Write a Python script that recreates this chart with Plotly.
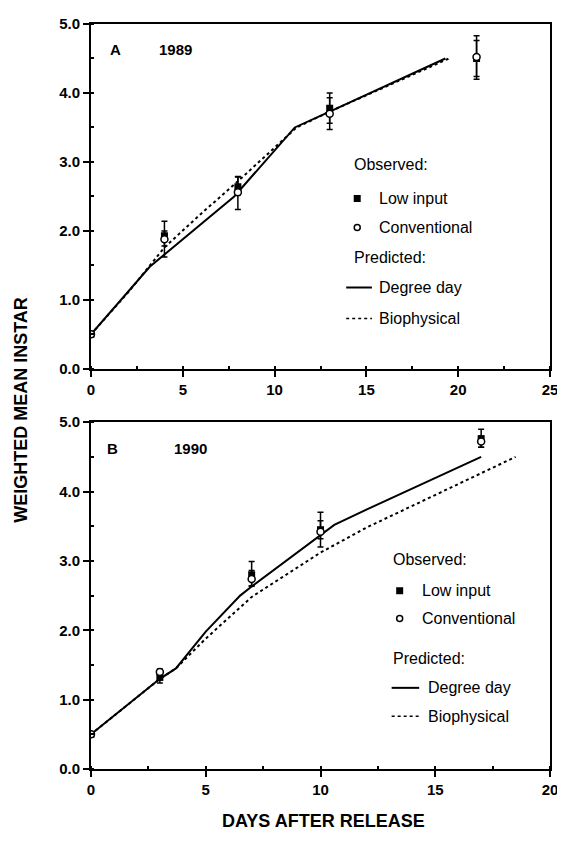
import plotly.graph_objects as go
from plotly.subplots import make_subplots

# ---------------- Panel A : 1989 ----------------
a_days = [0, 4, 8, 13, 21]
a_low = [0.50, 1.93, 2.64, 3.78, 4.50]
a_low_up = [0, 0.21, 0.15, 0.22, 0.26]
a_low_dn = [0, 0.15, 0.12, 0.22, 0.26]
a_conv = [0.50, 1.88, 2.56, 3.70, 4.52]
a_conv_up = [0, 0.12, 0.22, 0.23, 0.31]
a_conv_dn = [0, 0.26, 0.25, 0.23, 0.32]
a_dd_x = [0, 3.2, 7.8, 11.1, 13, 19.3]
a_dd_y = [0.50, 1.48, 2.50, 3.50, 3.73, 4.50]
a_bio_x = [0, 2, 4, 6, 8, 9.5, 11.2, 13, 19.5]
a_bio_y = [0.50, 1.10, 1.76, 2.25, 2.72, 3.08, 3.50, 3.73, 4.50]

# ---------------- Panel B : 1990 ----------------
b_days = [0, 3, 7, 10, 17]
b_low = [0.50, 1.32, 2.80, 3.45, 4.76]
b_low_up = [0, 0.08, 0.19, 0.25, 0.14]
b_low_dn = [0, 0.08, 0.16, 0.25, 0.12]
b_conv = [0.50, 1.40, 2.74, 3.42, 4.72]
b_conv_up = [0, 0.04, 0.12, 0.16, 0.08]
b_conv_dn = [0, 0.05, 0.10, 0.10, 0.08]
b_dd_x = [0, 3, 3.7, 5, 6.5, 7, 10.6, 12, 17]
b_dd_y = [0.50, 1.30, 1.45, 1.98, 2.50, 2.63, 3.52, 3.74, 4.50]
b_bio_x = [0, 3, 3.7, 5, 7, 10, 12, 18.5]
b_bio_y = [0.50, 1.30, 1.45, 1.88, 2.48, 3.12, 3.48, 4.50]

y_ticks = [0, 1, 2, 3, 4, 5]
a_x_ticks = [0, 5, 10, 15, 20, 25]
b_x_ticks = [0, 5, 10, 15, 20]

FONT = "Liberation Sans"
BLACK = "black"

# page body has an 8px margin: the figure is laid out in page pixels minus 8
OFF = 8
W, H = 565 - OFF, 841 - 2 * OFF
A_TOP, A_BOT = 15 - OFF, 364 - OFF
B_TOP, B_BOT = 418 - OFF, 769 - OFF
P_LEFT, P_RIGHT = 91 - OFF, 553 - OFF
plot_h = B_BOT - A_TOP
a_dom = [(B_BOT - A_BOT) / plot_h, 1]
b_dom = [0, (B_BOT - B_TOP) / plot_h]

fig = make_subplots(rows=2, cols=1, vertical_spacing=0.0)


def add_panel(row, days, low, lup, ldn, conv, cup, cdn, ddx, ddy, bx, by):
    fig.add_trace(go.Scatter(x=ddx, y=ddy, mode="lines",
                             line=dict(color=BLACK, width=2), showlegend=False),
                  row=row, col=1)
    fig.add_trace(go.Scatter(x=bx, y=by, mode="lines",
                             line=dict(color=BLACK, width=2, dash="dot"), showlegend=False),
                  row=row, col=1)
    fig.add_trace(go.Scatter(x=days, y=low, mode="markers",
                             marker=dict(symbol="square", size=7, color=BLACK),
                             error_y=dict(type="data", array=lup, arrayminus=ldn,
                                          color=BLACK, thickness=1.5, width=3),
                             showlegend=False), row=row, col=1)
    fig.add_trace(go.Scatter(x=days, y=conv, mode="markers",
                             marker=dict(symbol="circle", size=7, color="white",
                                         line=dict(color=BLACK, width=1.5)),
                             error_y=dict(type="data", array=cup, arrayminus=cdn,
                                          color=BLACK, thickness=1.5, width=3),
                             showlegend=False), row=row, col=1)


add_panel(1, a_days, a_low, a_low_up, a_low_dn, a_conv, a_conv_up, a_conv_dn,
          a_dd_x, a_dd_y, a_bio_x, a_bio_y)
add_panel(2, b_days, b_low, b_low_up, b_low_dn, b_conv, b_conv_up, b_conv_dn,
          b_dd_x, b_dd_y, b_bio_x, b_bio_y)

axis_common = dict(showline=True, linecolor=BLACK, linewidth=2, mirror=True,
                   ticks="outside", ticklen=6, tickwidth=1.5, tickcolor=BLACK,
                   showgrid=False, zeroline=False,
                   tickfont=dict(family=FONT, size=15, color=BLACK, weight="bold"))

fig.update_xaxes(**axis_common)
fig.update_yaxes(**axis_common)
fig.update_xaxes(range=[0, 25], tickvals=a_x_ticks,
                 minor=dict(ticks="inside", ticklen=3, dtick=2.5, tickcolor=BLACK),
                 row=1, col=1)
fig.update_xaxes(range=[0, 20], tickvals=b_x_ticks,
                 minor=dict(ticks="inside", ticklen=3, dtick=2.5, tickcolor=BLACK),
                 row=2, col=1)
fig.update_yaxes(range=[0, 5], tickvals=y_ticks, tickformat=".1f",
                 minor=dict(ticks="inside", ticklen=3, dtick=0.5, tickcolor=BLACK))
fig.update_layout(yaxis=dict(domain=a_dom), yaxis2=dict(domain=b_dom))


def label(text, x, y, xref, yref, size=16, bold=False, xanchor="left"):
    fig.add_annotation(text=text, x=x, y=y, xref=xref, yref=yref, showarrow=False,
                       xanchor=xanchor, yanchor="middle",
                       font=dict(family=FONT, size=size, color=BLACK,
                                 weight="bold" if bold else "normal"))


label("A", 1.35, 4.63, "x", "y", size=15, bold=True, xanchor="center")
label("1989", 4.6, 4.63, "x", "y", size=15, bold=True, xanchor="center")
label("B", 0.93, 4.62, "x2", "y2", size=15, bold=True, xanchor="center")
label("1990", 4.34, 4.62, "x2", "y2", size=15, bold=True, xanchor="center")

legA = dict(head_x=14.2, mk_x=14.5, txt_x=15.6, dd_x=15.6, ln_x0=13.9, ln_x1=15.3,
            ys=[2.97, 2.47, 2.05, 1.62, 1.18, 0.73])
legB = dict(head_x=13.07, mk_x=13.45, txt_x=14.35, dd_x=14.6, ln_x0=13.1, ln_x1=14.3,
            ys=[3.02, 2.57, 2.17, 1.60, 1.17, 0.76])

for L, xr, yr, row in ((legA, "x", "y", 1), (legB, "x2", "y2", 2)):
    ys = L["ys"]
    label("Observed:", L["head_x"], ys[0], xr, yr)
    label("Low input", L["txt_x"], ys[1], xr, yr)
    label("Conventional", L["txt_x"], ys[2], xr, yr)
    label("Predicted:", L["head_x"], ys[3], xr, yr)
    label("Degree day", L["dd_x"], ys[4], xr, yr)
    label("Biophysical", L["dd_x"], ys[5], xr, yr)
    fig.add_trace(go.Scatter(x=[L["mk_x"]], y=[ys[1]], mode="markers",
                             marker=dict(symbol="square", size=7, color=BLACK),
                             showlegend=False, hoverinfo="skip"), row=row, col=1)
    fig.add_trace(go.Scatter(x=[L["mk_x"]], y=[ys[2]], mode="markers",
                             marker=dict(symbol="circle", size=6, color="white",
                                         line=dict(color=BLACK, width=1.5)),
                             showlegend=False, hoverinfo="skip"), row=row, col=1)
    fig.add_trace(go.Scatter(x=[L["ln_x0"], L["ln_x1"]], y=[ys[4], ys[4]], mode="lines",
                             line=dict(color=BLACK, width=2),
                             showlegend=False, hoverinfo="skip"), row=row, col=1)
    fig.add_trace(go.Scatter(x=[L["ln_x0"], L["ln_x1"]], y=[ys[5], ys[5]], mode="lines",
                             line=dict(color=BLACK, width=1.5, dash="dot"),
                             showlegend=False, hoverinfo="skip"), row=row, col=1)

plot_w = P_RIGHT - P_LEFT
fig.add_annotation(text="WEIGHTED MEAN INSTAR", textangle=-90,
                   x=(21 - OFF - P_LEFT) / plot_w, y=(B_BOT - (405 - OFF)) / plot_h,
                   xref="paper", yref="paper", xanchor="center", yanchor="middle",
                   showarrow=False,
                   font=dict(family=FONT, size=18, color=BLACK, weight="bold"))
fig.add_annotation(text="DAYS AFTER RELEASE",
                   x=(325 - OFF - P_LEFT) / plot_w, y=(B_BOT - (822 - OFF)) / plot_h,
                   xref="paper", yref="paper", xanchor="center", yanchor="middle",
                   showarrow=False,
                   font=dict(family=FONT, size=18, color=BLACK, weight="bold"))

fig.update_layout(width=W, height=H, plot_bgcolor="white", paper_bgcolor="white",
                  margin=dict(l=P_LEFT, r=W - P_RIGHT, t=A_TOP, b=H - B_BOT),
                  showlegend=False)

fig.write_html("out.html")
